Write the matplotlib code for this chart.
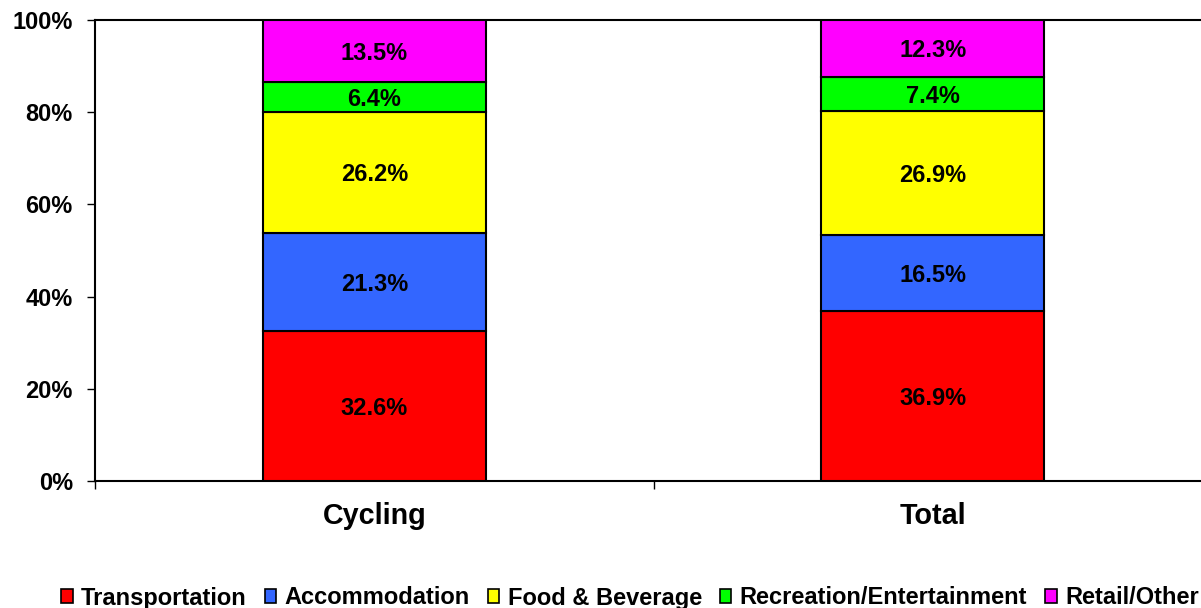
import matplotlib
matplotlib.use("Agg")
import matplotlib.pyplot as plt
from matplotlib.patches import Patch

plt.rcParams['font.family'] = ['Liberation Sans', 'DejaVu Sans']
plt.rcParams['font.weight'] = 'bold'

categories = ["Cycling", "Total"]
series_names = ["Transportation", "Accommodation", "Food & Beverage",
                "Recreation/Entertainment", "Retail/Other"]
values = {
    "Transportation": [32.6, 36.9],
    "Accommodation": [21.3, 16.5],
    "Food & Beverage": [26.2, 26.9],
    "Recreation/Entertainment": [6.4, 7.4],
    "Retail/Other": [13.5, 12.3],
}
colors = ["#FF0000", "#3366FF", "#FFFF00", "#00FF00", "#FF00FF"]
yticks = [0, 20, 40, 60, 80, 100]
ytick_labels = ["0%", "20%", "40%", "60%", "80%", "100%"]

W, H = 1201, 608
fig = plt.figure(figsize=(W / 100, H / 100), dpi=100)
ax = fig.add_axes([95 / W, (H - 481) / H, (1212 - 95) / W, 461 / H])

x = list(range(len(categories)))
bottom = [0.0] * len(categories)
for name, col in zip(series_names, colors):
    vals = values[name]
    ax.bar(x, vals, width=0.4, bottom=bottom, color=col,
           edgecolor="black", linewidth=1.5, zorder=3)
    for xi, v, b in zip(x, vals, bottom):
        ax.text(xi, b + v / 2, f"{v:.1f}%", ha="center", va="center_baseline",
                fontsize=17, fontweight="bold", color="black", zorder=4)
    bottom = [b + v for b, v in zip(bottom, vals)]

ax.set_xlim(-0.5, 1.5)
ax.set_ylim(0, 100)
ax.set_yticks(yticks)
ax.set_yticklabels(ytick_labels, fontsize=17, fontweight="bold")
ax.tick_params(axis="y", direction="out", length=6, width=1, pad=10)

ax.set_xticks([-0.5, 0.5, 1.5])
ax.set_xticklabels([])
ax.tick_params(axis="x", which="major", direction="out", length=6, width=1)
ax.set_xticks(x, minor=True)
ax.set_xticklabels(categories, minor=True, fontsize=20.7, fontweight="bold")
ax.tick_params(axis="x", which="minor", length=0, pad=15)

for s in ["left", "bottom", "top"]:
    ax.spines[s].set_linewidth(1.5)
ax.spines["right"].set_visible(False)

handles = [Patch(facecolor=c, edgecolor="black", linewidth=1.2) for c in colors]
fig.legend(handles, series_names, loc="center left",
           bbox_to_anchor=(61 / W, 1 - 598 / H), ncol=5, frameon=False,
           prop={"weight": "bold", "size": 17},
           handlelength=0.5, handleheight=0.5, handletextpad=0.35,
           columnspacing=0.75, borderaxespad=0, borderpad=0)

fig.savefig("out.png", dpi=100)
